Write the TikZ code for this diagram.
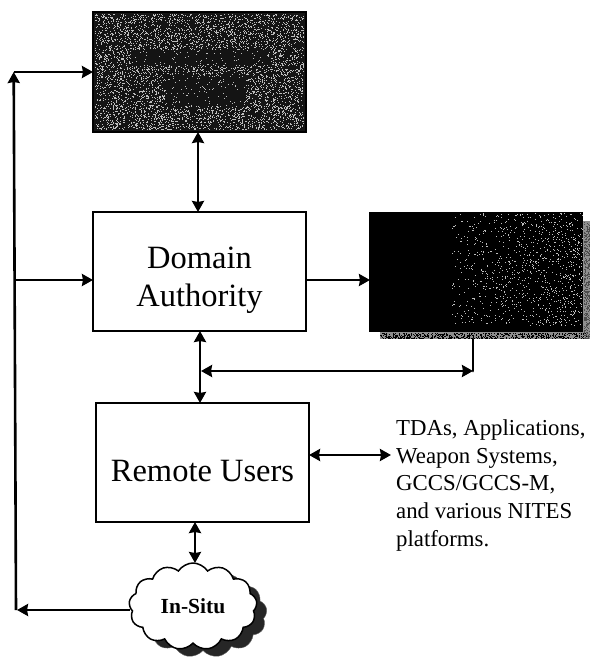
\documentclass[tikz,border=0pt]{standalone}
\usepackage{fontspec}
\setmainfont{Liberation Serif}
\usetikzlibrary{arrows.meta,shapes.symbols}
\definecolor{speck}{gray}{0.74}
\definecolor{darkbase}{gray}{0.08}
\tikzset{
  whitebox/.style={draw=black,line width=1.5pt,fill=white,align=center,inner sep=0pt},
  conn/.style={line width=2.6pt,black,{Stealth[length=11pt,width=12pt,inset=1pt]}-{Stealth[length=11pt,width=12pt,inset=1pt]}},
  oneway/.style={line width=2.6pt,black,-{Stealth[length=11pt,width=12pt,inset=1pt]}},
  plain/.style={line width=2.8pt,black,line cap=round},
  bigtext/.style={font=\fontsize{32.5}{38}\selectfont},
  sidetext/.style={font=\fontsize{22.8}{27.7}\selectfont,align=left,inner sep=0pt,anchor=north west},
  insitu/.style={cloud,cloud puffs=13,cloud puff arc=115,aspect=1.5,minimum width=128pt,minimum height=87pt,inner sep=0pt}
}
\begin{document}
\begin{tikzpicture}[x=1pt,y=-1pt]
\useasboundingbox (0,0) rectangle (590,658);
% top speckled box
\node[draw=black,line width=1.5pt,fill=darkbase,minimum width=213pt,minimum height=120pt,inner sep=0pt] (top) at (199.5,72) {};
\pgfmathsetseed{42}
\foreach \i in {1,...,5200}{
  \pgfmathsetmacro{\px}{95+random(0,208)}
  \pgfmathsetmacro{\py}{14+random(0,115)}
  \pgfmathsetmacro{\inband}{(\py>49 && \py<65 && \px>130 && \px<268) || (\py>74 && \py<106 && \px>165 && \px<246) ? 1 : 0}
  \pgfmathtruncatemacro{\keep}{\inband==1 ? (random(0,5)==0 ? 1 : 0) : 1}
  \ifnum\keep=1 \fill[speck] (\px,\py) rectangle +(1.3,1.3);\fi
}
% dark box with speckled shadow
\fill[speck!75!black] (380,221) rectangle (590,339);
\foreach \i in {1,...,700}{
  \pgfmathsetmacro{\px}{380+random(0,208)}
  \pgfmathsetmacro{\py}{333+random(0,5)}
  \fill[black] (\px,\py) rectangle +(1.2,1.2);
}
\foreach \i in {1,...,400}{
  \pgfmathsetmacro{\py}{222+random(0,116)}
  \pgfmathsetmacro{\px}{584+random(0,5)}
  \fill[black!70] (\px,\py) rectangle +(1.2,1.2);
}
\node[fill=black,minimum width=214pt,minimum height=120pt,inner sep=0pt] (dark) at (476,272) {};
\foreach \i in {1,...,1100}{
  \pgfmathsetmacro{\px}{pow(rnd,0.4)*212}
  \pgfmathsetmacro{\py}{213+random(0,112)}
  \ifdim \px pt>80pt
    \fill[speck] ({370+\px},\py) rectangle +(1,1);
  \fi
}
% white boxes
\node[whitebox,bigtext,minimum width=213pt,minimum height=119pt] (domain) at (199.5,271.5) {\rule{0pt}{39pt}Domain\\Authority};
\node[whitebox,bigtext,minimum width=213pt,minimum height=119pt] (remote) at (202.5,462.5) {\rule{0pt}{38pt}Remote Users};
% cloud
\node[insitu,fill=black!85,draw=black!60] (cloudshadow) at (203,614) {};
\node[insitu,fill=white,draw=black,line width=1.5pt,font=\bfseries\fontsize{21.5}{24}\selectfont] (cloud) at (193,606.5) {In-Situ};
% side text
\node[sidetext] (side) at (396,419.5) {TDAs, Applications,\\Weapon Systems,\\GCCS/GCCS-M,\\and various NITES\\platforms.};
% helper coordinates
\coordinate (busTop) at (13.7,72);
\coordinate (busMid) at (14.5,280);
\coordinate (busCornerLow) at (16,610);
\coordinate (busBot) at (17,610);
\coordinate (cloudTop) at (195,563);
\coordinate (cloudLeft) at (130,610);
\coordinate (topIn) at (93,72);
\coordinate (domainIn) at (93,280);
\coordinate (domainOut) at (306,280);
\coordinate (darkIn) at (370,280);
\coordinate (darkOut) at (473,339);
\coordinate (busCorner) at (473,371);
\coordinate (busStart) at (201,371);
\coordinate (remoteOut) at (309,455);
\coordinate (textIn) at (391,455);
% connectors
\draw[conn] (198,132) -- (198,212);
\draw[conn] (200,331) -- (200,403);
\draw[conn] (195,522) -- (cloudTop);
\draw[conn] (remoteOut) -- (textIn);
\draw[oneway] (domainOut) -- (darkIn);
\draw[conn] (busStart) -- (busCorner);
\draw[plain] (darkOut) -- (busCorner);
\draw[oneway] (busMid) -- (domainIn);
\draw[oneway] (busCornerLow) -- (busTop);
\draw[oneway] (busTop) -- (topIn);
\draw[oneway] (cloudLeft) -- (busBot);
\end{tikzpicture}
\end{document}
